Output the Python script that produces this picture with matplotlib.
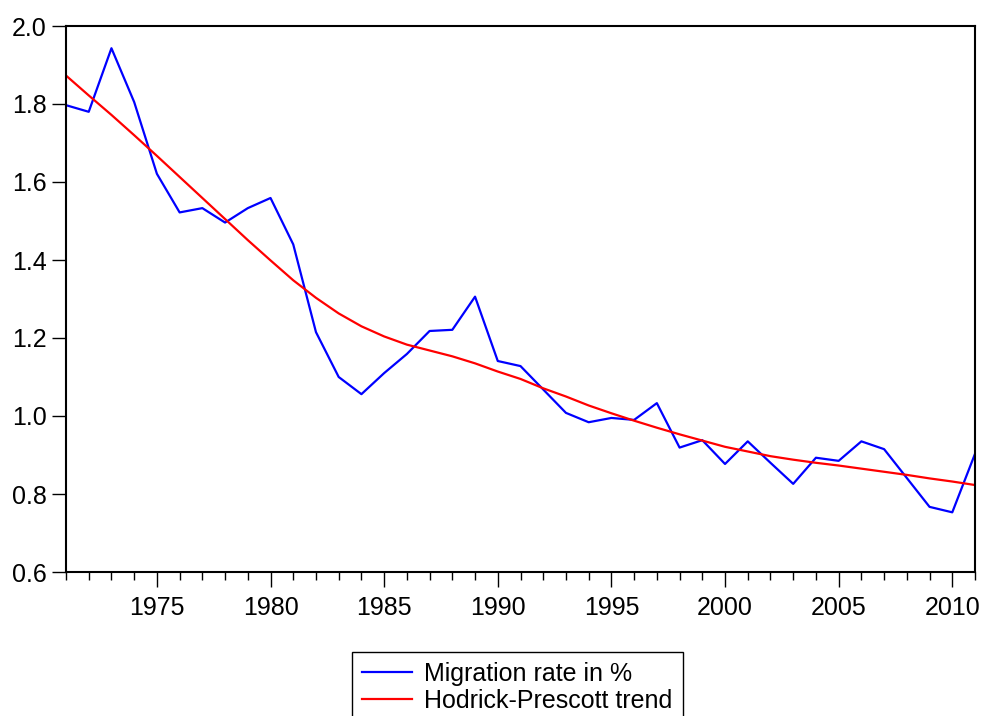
import matplotlib
matplotlib.use("Agg")
import matplotlib.pyplot as plt
from matplotlib.ticker import MultipleLocator

plt.rcParams['font.family'] = ['Liberation Sans', 'DejaVu Sans']

years = list(range(1971, 2012))
migration = [1.797, 1.780, 1.943, 1.805, 1.621, 1.522, 1.533, 1.496, 1.533, 1.559,
             1.440, 1.215, 1.100, 1.056, 1.110, 1.159, 1.218, 1.221, 1.306, 1.141,
             1.128, 1.068, 1.008, 0.984, 0.995, 0.990, 1.033, 0.919, 0.938, 0.877,
             0.935, 0.880, 0.826, 0.893, 0.885, 0.935, 0.915, 0.841, 0.767, 0.753,
             0.903]
hp_trend = [1.873, 1.822, 1.772, 1.720, 1.667, 1.613, 1.559, 1.505, 1.451, 1.399,
            1.348, 1.303, 1.263, 1.230, 1.204, 1.183, 1.168, 1.153, 1.135, 1.114,
            1.095, 1.071, 1.050, 1.027, 1.007, 0.988, 0.970, 0.953, 0.937, 0.921,
            0.909, 0.897, 0.888, 0.880, 0.873, 0.865, 0.857, 0.849, 0.840, 0.832,
            0.823]
labels = ["Migration rate in %", "Hodrick-Prescott trend"]

fig = plt.figure(figsize=(9.83, 7.16), dpi=100)
ax = fig.add_axes([66/983, 1-572/716, (975-66)/983, (572-26)/716])

ax.plot(years, migration, color='#0000ff', lw=1.6, label=labels[0])
ax.plot(years, hp_trend, color='#ff0000', lw=1.6, label=labels[1])

ax.set_xlim(1971, 2011)
ax.set_ylim(0.6, 2.0)
ax.xaxis.set_major_locator(MultipleLocator(5))
ax.xaxis.set_minor_locator(MultipleLocator(1))
ax.yaxis.set_major_locator(MultipleLocator(0.2))
ax.yaxis.set_major_formatter(plt.FuncFormatter(lambda v, p: f"{v:.1f}"))
ax.tick_params(axis='x', which='major', direction='out', length=11, width=1.0,
               labelsize=18, pad=6, top=False)
ax.tick_params(axis='x', which='minor', direction='out', length=6, width=1.0, top=False)
ax.tick_params(axis='y', which='major', direction='out', length=10, width=1.0,
               labelsize=18, pad=4, right=False)
for s in ax.spines.values():
    s.set_linewidth(1.5)
    s.set_color('black')

leg = fig.legend(loc='upper left', bbox_to_anchor=(352/983, 1-652/716),
                 bbox_transform=fig.transFigure, frameon=True, fancybox=False,
                 edgecolor='black', fontsize=18, handlelength=2.0, handletextpad=0.5,
                 labelspacing=0.1, borderpad=0.4, borderaxespad=0, framealpha=1)
leg.get_frame().set_linewidth(1.0)

fig.savefig("out.png", dpi=100)
